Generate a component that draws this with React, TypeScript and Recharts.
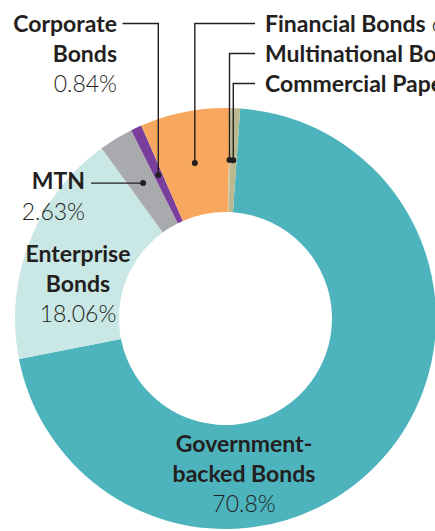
import { PieChart, Pie, Cell } from "recharts";

const names = [
  "Government-backed Bonds",
  "Enterprise Bonds",
  "MTN",
  "Corporate Bonds",
  "Financial Bonds",
  "Multinational Bonds",
  "Commercial Paper",
];
const shares = [70.8, 18.06, 2.63, 0.84, 6.9, 0.1, 0.66];
const shareLabels = ["70.8%", "18.06%", "2.63%", "0.84%", "6.9%", "0.1%", "0.66%"];
const colors = ["#4db3bd", "#c9e7e5", "#a9aaae", "#7a3f9c", "#f8a85e", "#c9c6a0", "#bcb98f"];

const data = names.map((name, i) => ({ name, value: shares[i], pct: shareLabels[i] }));

const INK = "#231f20";
const FONT = "Lato, 'Open Sans', sans-serif";
const SIZE = 23;
const RAD = Math.PI / 180;

// label layout per slice (index order as in names)
type Layout =
  | { kind: "block"; x: number; y: number; anchor: "start" | "middle" | "end"; lines: string[] }
  | { kind: "up"; lineY: number; endX: number; x: number; y: number; anchor: "start" | "end"; lines: string[]; inline?: boolean }
  | { kind: "side"; endX: number; x: number; y: number; lines: string[] };

const layout: Layout[] = [
  { kind: "block", x: 244, y: 452, anchor: "middle", lines: ["Government-", "backed Bonds"] },
  { kind: "block", x: 78, y: 262, anchor: "middle", lines: ["Enterprise", "Bonds"] },
  { kind: "side", endX: 91, x: 85, y: 189, lines: ["MTN"] },
  { kind: "up", lineY: 23.5, endX: 122.5, x: 117, y: 32, anchor: "end", lines: ["Corporate", "Bonds"] },
  { kind: "up", lineY: 23.5, endX: 255, x: 265, y: 32, anchor: "start", lines: ["Financial Bonds"], inline: true },
  { kind: "up", lineY: 53.5, endX: 255, x: 265, y: 62, anchor: "start", lines: ["Multinational Bonds"], inline: true },
  { kind: "up", lineY: 83.5, endX: 255, x: 265, y: 92, anchor: "start", lines: ["Commercial Paper"], inline: true },
];

const renderLabel = (props: any) => {
  const { cx, cy, midAngle, innerRadius, outerRadius, index, payload } = props;
  const l = layout[index];
  const pct = payload?.pct ?? shareLabels[index];
  const r = (innerRadius + outerRadius) / 2;
  const dx = cx + r * Math.cos(-midAngle * RAD);
  const dy = cy + r * Math.sin(-midAngle * RAD);
  const lh = 30;

  if (l.kind === "block") {
    return (
      <g key={`lab-${index}`}>
        <text x={l.x} y={l.y} textAnchor={l.anchor} fontFamily={FONT} fontSize={SIZE} fill={INK}>
          {l.lines.map((t, i) => (
            <tspan key={i} x={l.x} dy={i === 0 ? 0 : lh} fontWeight={700}>{t}</tspan>
          ))}
          <tspan x={l.x} dy={lh} fontWeight={300}>{pct}</tspan>
        </text>
      </g>
    );
  }
  if (l.kind === "side") {
    return (
      <g key={`lab-${index}`}>
        <polyline points={`${dx},${dy} ${l.endX},${dy}`} stroke={INK} strokeWidth={1.4} fill="none" />
        <circle cx={dx} cy={dy} r={3} fill={INK} />
        <text x={l.x} y={l.y} textAnchor="end" fontFamily={FONT} fontSize={SIZE} fill={INK}>
          <tspan x={l.x} fontWeight={700}>{l.lines[0]}</tspan>
          <tspan x={l.x} dy={31} fontWeight={300}>{pct}</tspan>
        </text>
      </g>
    );
  }
  return (
    <g key={`lab-${index}`}>
      <polyline points={`${dx},${dy} ${dx},${l.lineY} ${l.endX},${l.lineY}`} stroke={INK} strokeWidth={1.4} fill="none" />
      <circle cx={dx} cy={dy} r={3} fill={INK} />
      {l.inline ? (
        <text x={l.x} y={l.y} textAnchor={l.anchor} fontFamily={FONT} fontSize={SIZE} fill={INK}>
          <tspan fontWeight={700}>{l.lines[0]} </tspan>
          <tspan fontWeight={300}>{pct}</tspan>
        </text>
      ) : (
        <text x={l.x} y={l.y} textAnchor={l.anchor} fontFamily={FONT} fontSize={SIZE} fill={INK}>
          {l.lines.map((t, i) => (
            <tspan key={i} x={l.x} dy={i === 0 ? 0 : lh} fontWeight={700}>{t}</tspan>
          ))}
          <tspan x={l.x} dy={lh} fontWeight={300}>{pct}</tspan>
        </text>
      )}
    </g>
  );
};

export default function App() {
  return (
    <div style={{ position: "absolute", left: 0, top: 0, width: 435, height: 531, background: "#fff" }}>
      <PieChart width={435} height={531} margin={{ top: 0, right: 0, bottom: 0, left: 0 }}>
        <Pie
          data={data}
          dataKey="value"
          nameKey="name"
          cx={225.5}
          cy={318.5}
          innerRadius={106.5}
          outerRadius={210.5}
          startAngle={86}
          endAngle={-274}
          stroke="none"
          label={renderLabel}
          labelLine={false}
          isAnimationActive={false}
        >
          {data.map((d, i) => (
            <Cell key={d.name} fill={colors[i]} />
          ))}
        </Pie>
      </PieChart>
    </div>
  );
}
